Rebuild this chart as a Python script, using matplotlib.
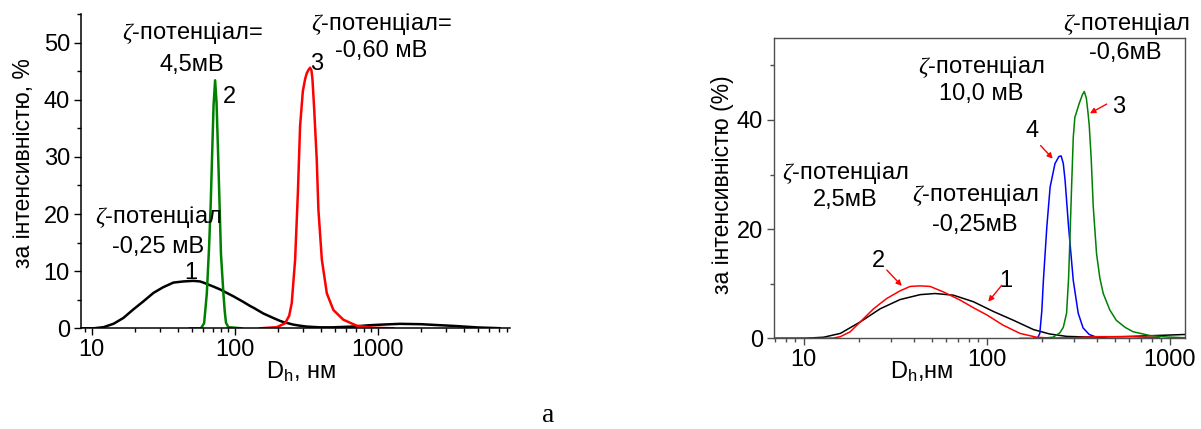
import numpy as np
import matplotlib
matplotlib.use('Agg')
from matplotlib import pyplot as plt
from matplotlib import ticker

plt.rcParams['font.family'] = ['Liberation Sans', 'DejaVu Sans']
plt.rcParams['mathtext.fontset'] = 'custom'
plt.rcParams['mathtext.rm'] = 'Liberation Sans'
plt.rcParams['mathtext.it'] = 'Liberation Serif:italic'

# --- left panel: size distributions by intensity ---
d1_left = [8.5, 10.3, 12.1, 14.2, 16.6, 19.5, 22.9, 27, 31.6, 37.2, 43.7, 51.3, 57, 60.3,
           70.8, 79, 83.2, 97.7, 115, 128, 135, 158, 186, 207, 218, 256, 286, 318, 393,
           489, 515, 670, 835, 980, 1200, 1430, 2000, 2450, 3500, 5000, 7100]
i1_left = [0, 0, 0.2, 0.8, 1.8, 3.3, 4.7, 6.2, 7.2, 8.0, 8.2, 8.3, 8.2, 8.0,
           7.3, 6.8, 6.5, 5.6, 4.6, 3.9, 3.6, 2.6, 1.8, 1.3, 1.1, 0.65, 0.45, 0.3, 0.17,
           0.17, 0.2, 0.3, 0.5, 0.6, 0.7, 0.78, 0.72, 0.6, 0.4, 0.15, 0.02]

d2_left = [48.5, 58, 61, 63.7, 66, 67.8, 69.5, 71, 72.8, 74.5, 76.3, 78.2, 80,
           83.2, 85, 86.7, 90, 111]
i2_left = [0, 0, 0.9, 6.1, 14, 21.7, 31, 39, 43.4, 39.5, 31, 21.7, 13,
           6.1, 3, 1, 0.2, 0]

d3_left = [150, 197, 225, 240, 250, 264, 276, 286, 299, 310, 318, 327, 336, 343, 349,
           359, 374, 384, 406, 440, 489, 574, 712, 931, 1285]
i3_left = [0, 0.2, 0.9, 2.2, 4.4, 12.0, 23.7, 35.4, 41.5, 43.6, 44.6, 45.2, 45.6, 45.2, 43.6,
           38.3, 29.5, 20.8, 12.0, 6.1, 3.2, 1.5, 0.45, 0.1, 0]

# --- right panel ---
d1_right = [6.9, 9, 10.4, 12.9, 15.9, 20.4, 26.2, 33.7, 43.4, 52.3, 65.8, 84.6, 109, 140,
            180, 220, 273, 340, 417, 550, 750, 1000, 1210]
i1_right = [0, 0, 0.02, 0.2, 0.9, 3.0, 5.4, 7.1, 8.0, 8.2, 7.9, 6.7, 4.9, 3.3,
            1.6, 0.8, 0.35, 0.25, 0.25, 0.3, 0.45, 0.6, 0.7]

d2_right = [6.9, 10, 13, 14.6, 15.9, 18, 20.4, 24.1, 28.5, 33.7, 38.2, 43.4, 49.1, 58,
            71.6, 84.6, 100, 123, 152, 187, 220, 300, 400, 600, 880]
i2_right = [0, 0, 0, 0.05, 0.3, 1.2, 3.0, 5.4, 7.3, 8.7, 9.5, 9.6, 9.5, 8.5,
            7.0, 5.6, 4.3, 2.4, 0.9, 0.2, 0.05, 0.1, 0.3, 0.3, 0.1]

d3_right = [152, 200, 230, 251, 262, 273, 280, 285, 291, 297, 303, 308, 320, 333, 341,
            350, 357, 363, 372, 382, 398, 415, 433, 470, 510, 570, 630, 780, 950, 1210]
i3_right = [0, 0, 0.2, 1.0, 2.0, 4.6, 11, 18.6, 28, 36.8, 40.5, 41.2, 43, 44.6, 45.2,
            44, 41.5, 39, 33, 24, 15.5, 11, 8.2, 5.2, 3.3, 2.0, 1.2, 0.5, 0.25, 0.1]

d4_right = [180, 190, 195, 200, 204, 213, 222, 236, 248, 255, 262, 268, 280, 297,
            316, 336, 363, 398, 450]
i4_right = [0, 0.1, 0.9, 5, 10.6, 20.4, 27.7, 32, 33.3, 33.4, 32, 28.9, 20.4, 10.6,
            4.6, 1.9, 0.7, 0.2, 0]

FS = 17     # horizontal text
FS_Y = 16.5 # rotated axis titles

W, H = 1201, 429
fig = plt.figure(figsize=(W / 100, H / 100), dpi=100)

def px_axes(x0, x1, ytop, ybot):
    return fig.add_axes([x0 / W, 1 - ybot / H, (x1 - x0) / W, (ybot - ytop) / H])

def log_x(ax):
    ax.set_xscale('log')
    ax.xaxis.set_major_locator(ticker.LogLocator(base=10, numticks=10))
    ax.xaxis.set_minor_locator(ticker.LogLocator(base=10, subs=np.arange(2, 10), numticks=20))
    ax.xaxis.set_major_formatter(ticker.FuncFormatter(lambda v, p: f'{v:g}'))
    ax.xaxis.set_minor_formatter(ticker.NullFormatter())

# left
ax1 = px_axes(81, 510, 14, 328.3)
ax1.plot(d1_left, i1_left, color='black', lw=1.8)
ax1.plot(d2_left, i2_left, color='#008000', lw=1.8)
ax1.plot(d3_left, i3_left, color='red', lw=1.8)
log_x(ax1)
ax1.set_xlim(8.4, 8400)
ax1.set_ylim(0, 55)
ax1.yaxis.set_major_locator(ticker.MultipleLocator(10))
ax1.yaxis.set_minor_locator(ticker.MultipleLocator(5))
for s in ('top', 'right'):
    ax1.spines[s].set_visible(False)
for s in ('left', 'bottom'):
    ax1.spines[s].set_linewidth(1.1)
ax1.tick_params(which='both', direction='out', width=1.0, labelsize=FS)
ax1.tick_params(which='major', length=5, pad=3)
ax1.tick_params(which='minor', length=3)

ax1.text(0.513, -0.16, r'D$_\mathrm{h}$, нм', transform=ax1.transAxes,
         ha='center', va='baseline', fontsize=FS)
fig.text(24 / W, 1 - 163.5 / H, 'за інтенсивністю, %', rotation=90,
         ha='center', va='center', fontsize=FS_Y)

ax1.text(50.2, 51.6, r'$\zeta$-потенціал=', ha='center', va='center', fontsize=FS)
ax1.text(50.2, 46.1, '4,5мВ', ha='center', va='center', fontsize=FS)
ax1.text(91, 40.5, '2', ha='center', va='center', fontsize=FS)
ax1.text(1054, 53.3, r'$\zeta$-потенціал=', ha='center', va='center', fontsize=FS, clip_on=False)
ax1.text(1054, 48.5, '-0,60 мВ', ha='center', va='center', fontsize=FS)
ax1.text(374, 46.2, '3', ha='center', va='center', fontsize=FS)
ax1.text(29.2, 19.5, r'$\zeta$-потенціал', ha='center', va='center', fontsize=FS)
ax1.text(29.2, 14.3, '-0,25 мВ', ha='center', va='center', fontsize=FS)
ax1.text(49.2, 9.6, '1', ha='center', va='center', fontsize=FS)

# right
ax2 = px_axes(774, 1185, 38, 338.3)
ax2.plot(d1_right, i1_right, color='black', lw=1.1)
ax2.plot(d4_right, i4_right, color='blue', lw=1.1)
ax2.plot(d3_right, i3_right, color='#008000', lw=1.1)
ax2.plot(d2_right, i2_right, color='red', lw=1.1)
log_x(ax2)
ax2.set_xlim(6.9, 1210)
ax2.set_ylim(0, 55)
ax2.yaxis.set_major_locator(ticker.MultipleLocator(20))
ax2.yaxis.set_minor_locator(ticker.MultipleLocator(10))
for s in ax2.spines.values():
    s.set_color('#4d4d4d')
    s.set_linewidth(1.0)
ax2.tick_params(which='both', direction='out', width=1.0, color='#4d4d4d', labelsize=FS)
ax2.tick_params(which='major', length=5, pad=3)
ax2.tick_params(which='minor', length=3)

ax2.text(0.359, -0.133, r'D$_\mathrm{h}$,нм', transform=ax2.transAxes,
         ha='center', va='baseline', fontsize=FS)
fig.text(722 / W, 1 - 184.5 / H, 'за інтенсивністю (%)', rotation=90,
         ha='center', va='center', fontsize=FS_Y)

ax2.text(581, 57.5, r'$\zeta$-потенціал', ha='center', va='center', fontsize=FS, clip_on=False)
ax2.text(574, 52.2, '-0,6мВ', ha='center', va='center', fontsize=FS)
ax2.text(93, 49.6, r'$\zeta$-потенціал', ha='center', va='center', fontsize=FS)
ax2.text(93, 44.7, '10,0 мВ', ha='center', va='center', fontsize=FS)
ax2.text(16.9, 30.3, r'$\zeta$-потенціал', ha='center', va='center', fontsize=FS)
ax2.text(16.9, 25.3, '2,5мВ', ha='center', va='center', fontsize=FS)
ax2.text(86.5, 26.2, r'$\zeta$-потенціал', ha='center', va='center', fontsize=FS)
ax2.text(86.5, 20.7, '-0,25мВ', ha='center', va='center', fontsize=FS)

# numbered labels with small red arrows
arrow = dict(arrowstyle='-|>', color='red', lw=1.0, mutation_scale=8, shrinkA=0, shrinkB=0)
ax2.text(25.8, 14.2, '2', ha='center', va='center', fontsize=FS)
ax2.annotate('', xy=(34.4, 9.6), xytext=(28.5, 12.5), arrowprops=arrow)
ax2.text(127, 10.5, '1', ha='center', va='center', fontsize=FS)
ax2.annotate('', xy=(102, 6.7), xytext=(120.8, 9.7), arrowprops=arrow)
ax2.text(176, 38.0, '4', ha='center', va='center', fontsize=FS)
ax2.annotate('', xy=(229.6, 32.9), xytext=(197, 35.3), arrowprops=arrow)
ax2.text(523, 42.3, '3', ha='center', va='center', fontsize=FS)
ax2.annotate('', xy=(366, 41.2), xytext=(452, 42.9), arrowprops=arrow)

fig.text(548 / W, 1 - 416 / H, 'а', ha='center', va='center', fontsize=20,
         family=['Liberation Serif'])

fig.savefig('out.png', dpi=100)
